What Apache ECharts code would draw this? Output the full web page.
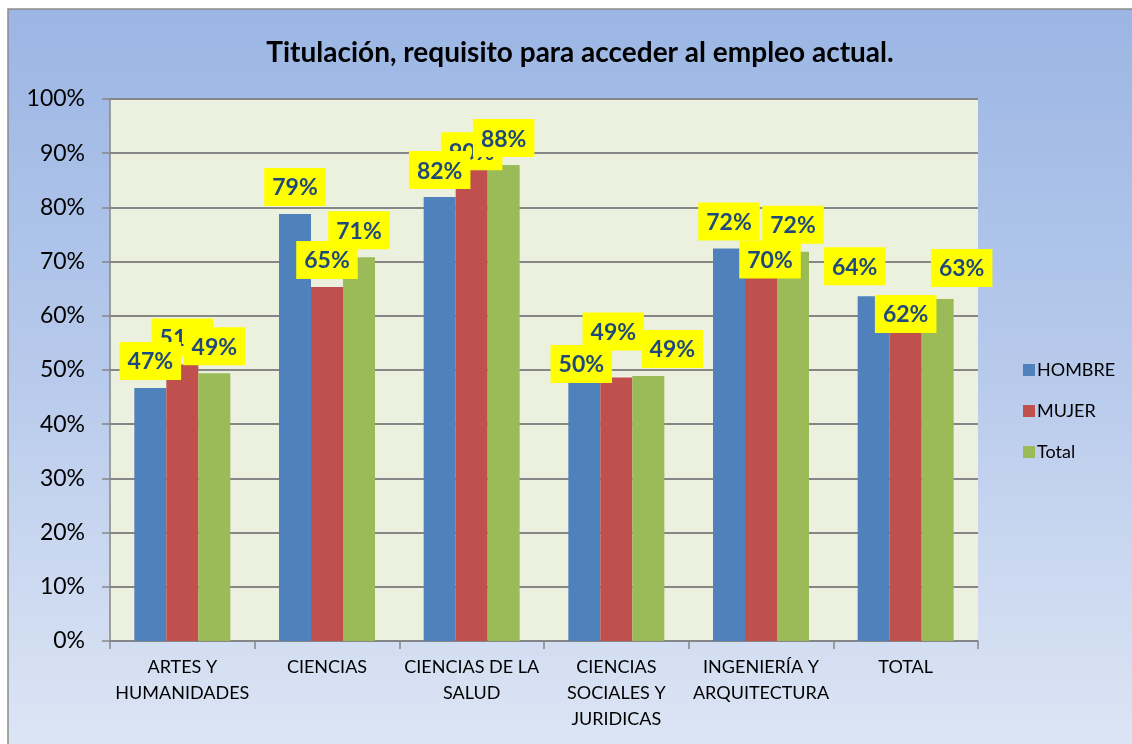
<!DOCTYPE html>
<html>
<head>
<meta charset="utf-8">
<script src="https://cdn.jsdelivr.net/npm/echarts@6/dist/echarts.min.js"></script>
<style>
  html, body { margin: 0; padding: 0; background: #fff; }
  #chart { width: 1132px; height: 744px; }
</style>
</head>
<body>
<div id="chart"></div>
<script>
  // categorias y valores (%)
  var categorias = ['ARTES Y\nHUMANIDADES', 'CIENCIAS', 'CIENCIAS DE LA\nSALUD', 'CIENCIAS\nSOCIALES Y\nJURIDICAS', 'INGENIERÍA Y\nARQUITECTURA', 'TOTAL'];
  var hombre = [46.7, 78.8, 81.9, 50.0, 72.4, 63.6];
  var mujer  = [51.0, 65.3, 90.0, 48.6, 70.0, 62.0];
  var total  = [49.4, 70.8, 87.8, 48.9, 71.8, 63.1];
  var yTicks = [0, 10, 20, 30, 40, 50, 60, 70, 80, 90, 100];

  // desplazamiento manual de las etiquetas (como en el original)
  var nudgeHombre = [[0,0],[0,0],[0,0],[-3,21],[0,0],[-19,-3]];
  var nudgeMujer  = [[0,0],[0,0],[0,25],[-3,-19],[9,25],[0,36]];
  var nudgeTotal  = [[0,0],[0,0],[0,0],[24,0],[0,0],[24,-4]];

  var gris = '#868686';
  var fuente = 'Lato, "Liberation Sans", sans-serif';

  function items(vals, nudge) {
    var out = [];
    for (var i = 0; i < vals.length; i++) {
      out.push({ value: vals[i], label: { offset: nudge[i] } });
    }
    return out;
  }

  var etiqueta = {
    show: true,
    position: 'top',
    distance: 8,
    formatter: function (p) { return Math.round(p.value) + '%'; },
    backgroundColor: '#ffff00',
    color: '#1f497d',
    fontFamily: fuente,
    fontWeight: 'bold',
    fontSize: 23,
    lineHeight: 26,
    padding: [7, 8, 5, 8]
  };

  // barras visibles (eje 0) + barras transparentes solo para etiquetas (eje 1, encima)
  function barra(nombre, vals, color, z) {
    return { name: nombre, type: 'bar', z: z, barWidth: 32, barGap: '0%',
      itemStyle: { color: color }, label: { show: false }, data: vals };
  }
  function capa(nombre, vals, nudge, z) {
    return { name: nombre + '_et', type: 'bar', xAxisIndex: 1, z: z, barWidth: 32, barGap: '0%',
      itemStyle: { color: 'rgba(0,0,0,0)' }, label: etiqueta, silent: true, data: items(vals, nudge) };
  }

  var chart = echarts.init(document.getElementById('chart'));
  chart.setOption({
    animation: false,
    textStyle: { fontFamily: fuente },
    graphic: [{
      type: 'rect',
      z: -10,
      shape: { x: 8, y: 9, width: 1140, height: 760 },
      style: {
        fill: new echarts.graphic.LinearGradient(0, 0, 0, 1, [
          { offset: 0, color: '#9bb6e4' },
          { offset: 0.5, color: '#b9cbec' },
          { offset: 1, color: '#dfe7f5' }
        ]),
        stroke: '#8c8c8c',
        lineWidth: 1.5
      }
    }],
    title: {
      text: 'Titulación, requisito para acceder al empleo actual.',
      left: 575,
      textAlign: 'center',
      top: 34,
      textStyle: { fontFamily: fuente, fontWeight: 'bold', fontSize: 28, color: '#000' }
    },
    legend: {
      orient: 'vertical',
      left: 1018,
      top: 356,
      itemWidth: 12,
      itemHeight: 12,
      itemGap: 23,
      icon: 'rect',
      textStyle: { fontFamily: fuente, fontSize: 18, color: '#000', padding: [0, 0, 0, -3] },
      data: ['HOMBRE', 'MUJER', 'Total']
    },
    grid: {
      left: 110, right: 154, top: 99, bottom: 103,
      show: true,
      backgroundColor: '#ebf1de',
      borderWidth: 0
    },
    xAxis: [{
      type: 'category',
      data: categorias,
      axisLine: { lineStyle: { color: gris, width: 1.5 } },
      axisTick: { show: true, length: 8, lineStyle: { color: gris, width: 1.5 } },
      axisLabel: { color: '#000', fontSize: 18, lineHeight: 26, margin: 13, interval: 0, fontFamily: fuente }
    }, {
      type: 'category',
      data: categorias,
      show: false
    }],
    yAxis: {
      type: 'value',
      min: yTicks[0],
      max: yTicks[yTicks.length - 1],
      interval: yTicks[1] - yTicks[0],
      axisLine: { show: true, lineStyle: { color: gris, width: 1.5 } },
      axisTick: { show: true, length: 8, lineStyle: { color: gris, width: 1.5 } },
      splitLine: { lineStyle: { color: gris, width: 2 } },
      axisLabel: { color: '#000', fontSize: 23, margin: 25, formatter: '{value}%', fontFamily: fuente }
    },
    series: [
      barra('HOMBRE', hombre, '#4f81bd', 2),
      barra('MUJER', mujer, '#c0504d', 2),
      barra('Total', total, '#9bbb59', 2),
      capa('HOMBRE', hombre, nudgeHombre, 12),
      capa('MUJER', mujer, nudgeMujer, 10),
      capa('Total', total, nudgeTotal, 11)
    ]
  });
</script>
</body>
</html>
